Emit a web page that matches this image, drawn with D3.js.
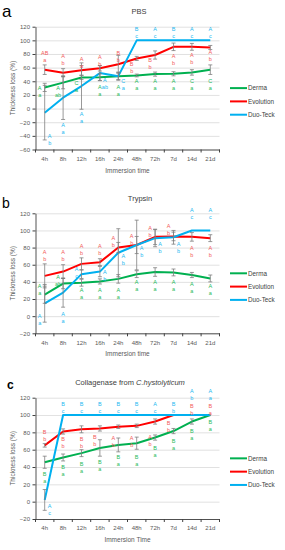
<!DOCTYPE html>
<html>
<head>
<meta charset="utf-8">
<script src="https://cdn.jsdelivr.net/npm/d3@7"></script>
<style>
  body { margin: 0; background: #fff; }
  svg { display: block; font-family: 'Liberation Sans', Arial, sans-serif; }
</style>
</head>
<body>
<div id="chart"></div>
<script>
// ── Data ────────────────────────────────────────────────────
const times  = ['4h', '8h', '12h', '16h', '24h', '48h', '72h', '7d', '14d', '21d'];
const series = ['Derma', 'Evolution', 'Duo-Teck'];

// a: PBS
const pbsTicks     = [-60, -40, -20, 0, 20, 40, 60, 80, 100, 120];
const pbsDerma     = [31, 38, 45.5, 46, 47.5, 48.5, 50.5, 51, 53, 57];
const pbsDermaErr  = [6, 9, 3, 5, 5, 2, 3, 3, 4, 7];
const pbsEvo       = [57, 52.5, 56, 59, 65, 73.5, 78.5, 90.5, 90.5, 89.5];
const pbsEvoErr    = [7, 6, 7, 4, 13, 3, 6, 5.5, 5, 3];
const pbsDuo       = [-6, 16, 33, 52, 47.5, 100, 100, 100, 100, 100];
const pbsDuoErr    = [40, 32, 34, 11, 6, 0, 0, 0, 0, 0];

// b: Trypsin
const tryTicks     = [-20, 0, 20, 40, 60, 80, 100, 120];
const tryDerma     = [25, 38, 39, 40.5, 43.5, 49, 51.5, 51, 48, 44];
const tryDermaErr  = [10, 6, 4, 3, 5, 4, 5, 4, 3, 4];
const tryEvo       = [47, 52, 61, 63, 80, 83, 92.5, 93, 92.5, 91];
const tryEvoErr    = [14, 8, 7, 4, 6, 10, 9, 5, 5, 4];
const tryDuo       = [15, 27.5, 49, 52, 74, 83, 91, 92, 100, 100];
const tryDuoErr    = [22, 17, 5, 6, 28, 29, 10, 8, 0, 0];

// c: Collagenase
const colTicks     = [-20, 0, 20, 40, 60, 80, 100, 120];
const colDerma     = [45.5, 51, 56, 62, 65.5, 67.5, 74, 81.5, 92.5, 100];
const colDermaErr  = [7, 4, 4, 9.5, 8, 7, 3, 3, 3, 0];
const colEvo       = [65, 81, 83.5, 84.5, 86.5, 87.5, 92.5, 100, 100, 100];
const colEvoErr    = [2, 3, 4, 3, 2, 2, 3, 0, 0, 0];
const colDuo       = [2, 100, 100, 100, 100, 100, 100, 100, 100, 100];
const colDuoErr    = [12, 0, 0, 0, 0, 0, 0, 0, 0, 0];

// significance letters: [upper, lower, value where upper sits, side]
const pbsDermaTags = [['A','a',29.5,'l'],['A','ab',29.5,'l'],['C','a',38,'l'],['A','a',31,'c'],['A','a',31,'c'],
                      ['A','a',40,'c'],['A','a',40,'c'],['A','a',40,'c'],['C','a',40,'c'],['C','a',40,'c']];
const pbsEvoTags   = [['AB','a',82,'c'],['A','b',77,'c'],['A','a',72,'c'],['A','b',76,'c'],['B','b',82,'c'],
                      ['B','b',66,'l'],['B','b',71,'l'],['A','b',76.5,'c'],['A','b',78,'c'],['A','b',83,'c']];
const pbsDuoTags   = [['A','b',-39.5,'r'],['A','a',-24,'c'],['A','a',-8,'c'],['A','ab',42,'r'],['C','a',41,'r'],
                      ['B','c',116,'c'],['A','c',116,'c'],['B','c',116,'c'],['A','c',116,'c'],['A','c',116,'c']];

const tryDermaTags = [['A','a',35,'l'],['A','ab',46,'l'],['A','a',31,'c'],['A','a',31,'c'],['A','a',31,'c'],
                      ['A','a',40,'c'],['A','a',40,'c'],['A','a',40,'c'],['A','a',37,'c'],['A','a',35.5,'c']];
const tryEvoTags   = [['A','b',75,'c'],['A','b',75,'c'],['A','b',81.5,'c'],['A','b',81.5,'c'],['A','b',91,'l'],
                      ['A','b',94,'l'],['A','b',102.5,'l'],['A','b',105.5,'l'],['A','b',79,'c'],['A','b',79,'c']];
const tryDuoTags   = [['A','a',0,'l'],['A','a',3,'c'],['A','c',54.5,'l'],['A','b',52,'r'],['A','b',70,'r'],
                      ['A','b',79,'r'],['A','b',84.5,'r'],['A','b',84.5,'r'],['A','c',124,'c'],['A','c',124,'c']];

const colDermaTags = [['B','a',32.5,'c'],['B','a',39.5,'c'],['B','a',43,'c'],['B','a',46,'c'],['B','a',51,'c'],
                      ['B','a',51.5,'c'],['B','a',62.5,'c'],['B','a',70.5,'c'],['B','a',82,'c'],['B','a',91.5,'c']];
const colEvoTags   = [['B','b',80.5,'c'],['B','b',72,'c'],['B','b',72,'c'],['B','b',75,'l'],['A','b',74,'l'],
                      ['A','b',74,'l'],['A','b',75,'l'],['B','b',91,'l'],['B','b',110.5,'c'],['B','a',110.5,'c']];
const colDuoTags   = [['A','c',-5,'r'],['B','c',112.5,'c'],['B','c',112.5,'c'],['B','c',112.5,'c'],['B','c',112.5,'c'],
                      ['B','c',112.5,'c'],['A','c',112.5,'c'],['B','b',112.5,'c'],['A','b',127.5,'c'],['A','a',127.5,'c']];

// ── Styles ──────────────────────────────────────────────────
const lineColor = { 'Derma': '#00b050', 'Evolution': '#ff0000', 'Duo-Teck': '#00b0f0' };
const tagColor  = { 'Derma': '#1cb95a', 'Evolution': '#f25a5a', 'Duo-Teck': '#22b8f0' };
const sideDx    = { l: -5, c: 0, r: 5 };

const W = 285, H = 550;
const svg = d3.select('#chart').append('svg')
  .attr('width', W).attr('height', H);

function drawPanel(p) {
  const g = svg.append('g');
  const left = 35.5, right = 219.5;

  const x = d3.scaleBand().domain(times).range([left, right]);
  const cx = t => x(t) + x.bandwidth() / 2;
  const y = d3.scaleLinear().domain(p.domain).range([p.bottom, p.top]);

  // ── Gridlines ─────────────────────────────────────────────
  g.append('g')
    .attr('transform', `translate(${left},0)`)
    .call(d3.axisLeft(y).tickValues(p.ticks).tickSize(-(right - left)).tickFormat(''))
    .call(a => a.select('.domain').remove())
    .selectAll('line')
    .attr('stroke', '#d9d9d9')
    .attr('stroke-width', 0.8);

  // ── Y axis ────────────────────────────────────────────────
  const ya = g.append('g')
    .attr('transform', `translate(${left},0)`)
    .call(d3.axisLeft(y).tickValues(p.ticks).tickSize(3).tickSizeOuter(0).tickPadding(2.5));
  ya.selectAll('text')
    .attr('fill', '#595959')
    .attr('font-size', '6px')
    .attr('font-family', 'Liberation Sans, Arial, sans-serif');

  // ── X axis (ticks between categories) ─────────────────────
  const xa = g.append('g')
    .attr('transform', `translate(0,${p.bottom})`)
    .call(d3.axisBottom(x).tickSize(0).tickSizeOuter(0).tickPadding(7));
  xa.selectAll('text')
    .attr('fill', '#595959')
    .attr('font-size', '6px')
    .attr('font-family', 'Liberation Sans, Arial, sans-serif');
  xa.selectAll('.xt')
    .data(times.map(t => x(t)).concat([right]))
    .enter().append('line')
    .attr('x1', d => d).attr('x2', d => d)
    .attr('y1', 0).attr('y2', 3)
    .attr('stroke', '#404040');

  g.selectAll('.domain').attr('stroke', '#404040').attr('stroke-width', 0.9);
  g.selectAll('.tick line').filter(function () { return this.getAttribute('stroke') !== '#d9d9d9'; })
    .attr('stroke', '#404040');

  // ── Lines ─────────────────────────────────────────────────
  const line = d3.line()
    .x((d, i) => cx(times[i]))
    .y(d => y(d));

  p.data.forEach(s => {
    g.append('path')
      .datum(s.values)
      .attr('fill', 'none')
      .attr('stroke', lineColor[s.name])
      .attr('stroke-width', 2)
      .attr('stroke-linejoin', 'round')
      .attr('d', line);
  });

  // ── Error bars ────────────────────────────────────────────
  p.data.forEach(s => {
    s.values.forEach((v, i) => {
      const e = s.err[i];
      if (!e) return;
      const xc = cx(times[i]);
      const eb = g.append('g').attr('stroke', '#7f7f7f').attr('stroke-width', 0.8);
      eb.append('line').attr('x1', xc).attr('x2', xc).attr('y1', y(v + e)).attr('y2', y(v - e));
      eb.append('line').attr('x1', xc - 2).attr('x2', xc + 2).attr('y1', y(v + e)).attr('y2', y(v + e));
      eb.append('line').attr('x1', xc - 2).attr('x2', xc + 2).attr('y1', y(v - e)).attr('y2', y(v - e));
    });
  });

  // ── Significance letters ──────────────────────────────────
  p.data.forEach(s => {
    s.tags.forEach((tg, i) => {
      const tx = cx(times[i]) + sideDx[tg[3]];
      const ty = y(tg[2]) + 2;
      [tg[0], tg[1]].forEach((txt, k) => {
        g.append('text')
          .attr('x', tx)
          .attr('y', ty + k * 7)
          .attr('text-anchor', 'middle')
          .attr('fill', tagColor[s.name])
          .attr('font-size', '5.5px')
          .text(txt);
      });
    });
  });

  // ── Titles ────────────────────────────────────────────────
  const title = g.append('text')
    .attr('x', p.titleX)
    .attr('y', p.top - 12.5)
    .attr('text-anchor', 'middle')
    .attr('fill', '#404040')
    .attr('font-size', '7.5px');
  title.append('tspan').text(p.title);
  if (p.titleItalic) title.append('tspan').attr('font-style', 'italic').text(p.titleItalic);

  g.append('text')
    .attr('x', p.letterX)
    .attr('y', p.letterY)
    .attr('fill', '#000')
    .attr('font-size', p.letterSize)
    .attr('font-weight', p.letterBold ? 'bold' : 'normal')
    .text(p.letter);

  g.append('text')
    .attr('transform', 'rotate(-90)')
    .attr('x', -(p.top + p.bottom) / 2)
    .attr('y', 14.5)
    .attr('text-anchor', 'middle')
    .attr('fill', '#595959')
    .attr('font-size', '6.5px')
    .text('Thickness  loss (%)');

  g.append('text')
    .attr('x', 127.5)
    .attr('y', p.bottom + 23)
    .attr('text-anchor', 'middle')
    .attr('fill', '#595959')
    .attr('font-size', '6.5px')
    .text(p.xTitle);

  // ── Legend ────────────────────────────────────────────────
  const mid = (p.top + p.bottom) / 2;
  series.forEach((name, i) => {
    const ly = mid + i * 13.3;
    g.append('line')
      .attr('x1', 230).attr('x2', 247)
      .attr('y1', ly).attr('y2', ly)
      .attr('stroke', lineColor[name])
      .attr('stroke-width', 2);
    g.append('text')
      .attr('x', 248).attr('y', ly + 2.2)
      .attr('fill', '#404040')
      .attr('font-size', '6.3px')
      .text(name);
  });
}

drawPanel({
  letter: 'a', letterX: 2, letterY: 16.5, letterSize: '17px',
  title: 'PBS', titleX: 139, xTitle: 'Immersion time',
  domain: [-60, 120], ticks: pbsTicks, top: 26.7, bottom: 149.5,
  data: [
    { name: 'Derma',     values: pbsDerma, err: pbsDermaErr, tags: pbsDermaTags },
    { name: 'Evolution', values: pbsEvo,   err: pbsEvoErr,   tags: pbsEvoTags },
    { name: 'Duo-Teck',  values: pbsDuo,   err: pbsDuoErr,   tags: pbsDuoTags }
  ]
});

drawPanel({
  letter: 'b', letterX: 2, letterY: 208, letterSize: '14px',
  title: 'Trypsin', titleX: 140, xTitle: 'Immersion time',
  domain: [-20, 120], ticks: tryTicks, top: 213.3, bottom: 333.3,
  data: [
    { name: 'Derma',     values: tryDerma, err: tryDermaErr, tags: tryDermaTags },
    { name: 'Evolution', values: tryEvo,   err: tryEvoErr,   tags: tryEvoTags },
    { name: 'Duo-Teck',  values: tryDuo,   err: tryDuoErr,   tags: tryDuoTags }
  ]
});

drawPanel({
  letter: 'c', letterX: 7, letterY: 388.5, letterSize: '12px', letterBold: true,
  title: 'Collagenase from ', titleItalic: 'C.hystolyticum', titleX: 130, xTitle: 'Immersion Time',
  domain: [-20, 120], ticks: colTicks, top: 397.7, bottom: 519,
  data: [
    { name: 'Derma',     values: colDerma, err: colDermaErr, tags: colDermaTags },
    { name: 'Evolution', values: colEvo,   err: colEvoErr,   tags: colEvoTags },
    { name: 'Duo-Teck',  values: colDuo,   err: colDuoErr,   tags: colDuoTags }
  ]
});
</script>
</body>
</html>
